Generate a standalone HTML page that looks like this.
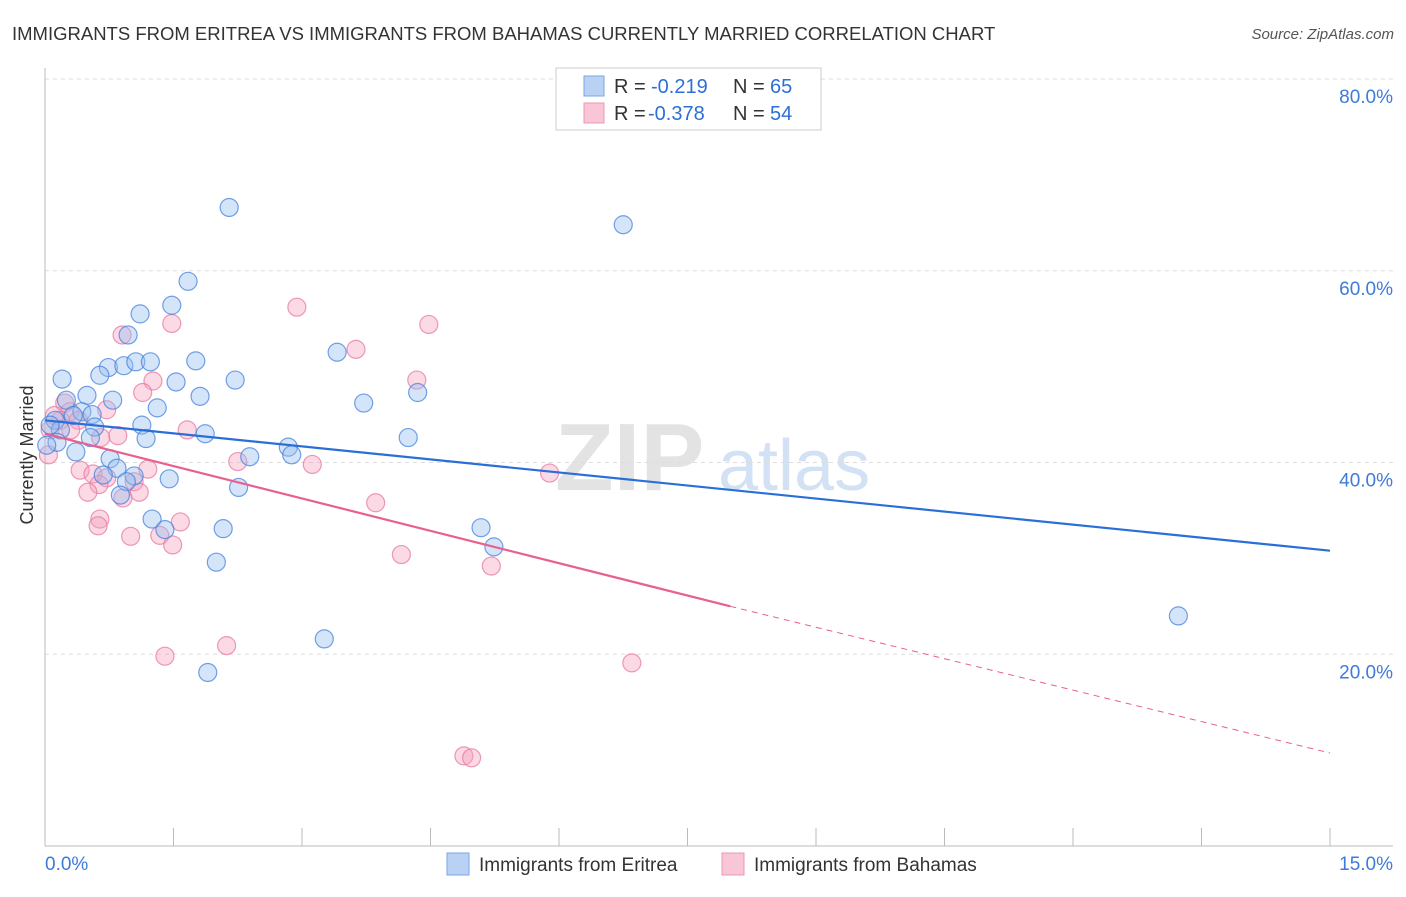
<!DOCTYPE html>
<html><head><meta charset="utf-8"><style>
body{margin:0;background:#fff;font-family:"Liberation Sans",sans-serif}
svg text{font-family:"Liberation Sans",sans-serif}
</style></head><body>
<svg id="chart" width="1406" height="892" xmlns="http://www.w3.org/2000/svg">
<text x="12" y="40" font-size="18.5" fill="#333">IMMIGRANTS FROM ERITREA VS IMMIGRANTS FROM BAHAMAS CURRENTLY MARRIED CORRELATION CHART</text>
<text x="1394" y="39" font-size="15" fill="#555" text-anchor="end" font-style="italic">Source: ZipAtlas.com</text>
<g>
<text x="555" y="490" font-size="96" fill="#ddd" font-family="Liberation Serif" font-weight="bold" opacity="0.8">ZIP</text>
<text x="718" y="490" font-size="72" fill="#c8daf2" opacity="0.8">atlas</text>
</g>
<g id="grid"></g>
<g id="axes"></g>
<g id="pts"></g>
<g id="lines"></g>
<text transform="translate(33,455) rotate(-90)" font-size="18" fill="#333" text-anchor="middle">Currently Married</text>
<g>
<rect x="556" y="68" width="265" height="62" fill="#fff" stroke="#ccc"/>
<rect x="584" y="76" width="20" height="20" fill="#b9d2f4" stroke="#7aa6e6"/>
<rect x="584" y="103" width="20" height="20" fill="#f8c6d6" stroke="#ee97b5"/>
<text x="614" y="93" font-size="20" fill="#333">R =</text>
<text x="651" y="93" font-size="20" fill="#2e6fd6">-0.219</text>
<text x="733" y="93" font-size="20" fill="#333">N =</text>
<text x="770" y="93" font-size="20" fill="#2e6fd6">65</text>
<text x="614" y="120" font-size="20" fill="#333">R =</text>
<text x="648" y="120" font-size="20" fill="#2e6fd6">-0.378</text>
<text x="733" y="120" font-size="20" fill="#333">N =</text>
<text x="770" y="120" font-size="20" fill="#2e6fd6">54</text>
</g>
<g>
<rect x="447" y="853" width="22" height="22" fill="#b9d2f4" stroke="#7aa6e6"/>
<text x="479" y="871" font-size="19" fill="#333">Immigrants from Eritrea</text>
<rect x="722" y="853" width="22" height="22" fill="#f8c6d6" stroke="#ee97b5"/>
<text x="754" y="871" font-size="19" fill="#333">Immigrants from Bahamas</text>
</g>
</svg>
<script>
const blueX=[2.15,6.75,1.67,1.48,1.11,0.97,3.41,0.74,0.92,1.06,1.23,1.76,0.20,0.64,1.53,2.22,0.49,1.81,3.72,0.79,0.25,4.35,1.31,0.43,0.55,0.33,0.12,0.58,1.13,1.87,4.24,0.53,1.18,2.84,2.88,2.39,0.36,0.76,0.84,0.68,1.04,1.45,0.95,2.26,0.88,1.25,2.08,5.09,1.40,5.24,2.00,3.26,1.90,13.23,0.18,0.06,0.14,0.02];
const blueY=[66.6,64.8,58.9,56.4,55.5,53.3,51.5,49.9,50.1,50.5,50.5,50.6,48.7,49.1,48.4,48.6,47.0,46.9,46.2,46.5,46.5,47.3,45.7,45.3,45.0,44.9,44.4,43.7,43.9,43.0,42.6,42.6,42.5,41.6,40.8,40.6,41.1,40.4,39.4,38.7,38.6,38.3,38.0,37.4,36.6,34.1,33.1,33.2,33.0,31.2,29.6,21.6,18.1,24.0,43.4,43.9,42.1,41.8];
const pinkX=[2.94,1.48,4.48,0.90,3.63,1.26,4.34,1.14,0.72,0.23,0.29,0.18,0.39,0.30,1.66,0.85,0.65,2.25,3.12,1.20,0.41,0.56,5.89,0.72,1.04,0.63,0.50,1.10,0.91,3.86,0.64,1.58,0.62,1.00,1.34,1.49,4.16,5.21,1.40,2.12,6.85,4.89,4.98,0.11,0.04,0.06];
const pinkY=[56.2,54.5,54.4,53.3,51.8,48.5,48.6,47.3,45.5,46.2,45.3,44.4,44.4,43.4,43.4,42.8,42.6,40.1,39.8,39.3,39.2,38.8,38.9,38.4,38.0,37.7,36.9,36.9,36.3,35.8,34.1,33.8,33.4,32.3,32.4,31.4,30.4,29.2,19.8,20.9,19.1,9.4,9.2,44.9,40.8,43.4];
const blueLine=[[0,44.4],[15,30.8]];
const pinkLine=[[0,43.0],[8.0,25.0]];
const pinkDash=[[8.0,25.0],[15,9.7]];
const yTicks=[20,40,60,80];
const yTickLabels=["20.0%","40.0%","60.0%","80.0%"];
const xTicks=[0,1.5,3,4.5,6,7.5,9,10.5,12,13.5,15];

const X=v=>45+v*(1330-45)/15;
const Y=v=>846-v*(846-79)/80;
const NS="http://www.w3.org/2000/svg";
function mk(tag,parent,attrs){const e=document.createElementNS(NS,tag);for(const k in attrs)e.setAttribute(k,attrs[k]);parent.appendChild(e);return e;}
const grid=document.getElementById('grid'),axes=document.getElementById('axes');
yTicks.forEach((t,i)=>{
  const l=mk('line',grid,{x1:45,x2:1393,y1:Y(t),y2:Y(t),stroke:'#ddd','stroke-dasharray':'4,4'});
  
  
  const tx=mk('text',axes,{x:1393,y:Y(t)+24,'font-size':19,fill:'#3f7ad8','text-anchor':'end'});
  tx.textContent=yTickLabels[i];
  
  
});
const ax=mk('line',axes,{x1:45,x2:1393,y1:846,y2:846,stroke:'#bbb'});


const ay=mk('line',axes,{x1:45,x2:45,y1:68,y2:846,stroke:'#bbb'});


xTicks.forEach(t=>{
  const l=mk('line',axes,{x1:X(t),x2:X(t),y1:828,y2:846,stroke:'#bbb'});
  
  
});
const xl0=mk('text',axes,{x:45,y:870,'font-size':19,fill:'#3f7ad8'});xl0.textContent='0.0%';


const xl1=mk('text',axes,{x:1393,y:870,'font-size':19,fill:'#3f7ad8','text-anchor':'end'});xl1.textContent='15.0%';


const pts=document.getElementById('pts');


pinkX.forEach((x,i)=>{
  const c=mk('circle',pts,{cx:X(x),cy:Y(pinkY[i]),r:9,fill:'rgba(244,160,190,0.4)',stroke:'rgba(232,120,160,0.75)','stroke-width':1.2});
  
  
});
blueX.forEach((x,i)=>{
  const c=mk('circle',pts,{cx:X(x),cy:Y(blueY[i]),r:9,fill:'rgba(150,190,240,0.4)',stroke:'rgba(70,130,220,0.75)','stroke-width':1.2});
  
  
});
const lines=document.getElementById('lines');
const bl=mk('line',lines,{x1:X(blueLine[0][0]),y1:Y(blueLine[0][1]),x2:X(blueLine[1][0]),y2:Y(blueLine[1][1]),stroke:'#2a6fd8','stroke-width':2.2});


const pl=mk('line',lines,{x1:X(pinkLine[0][0]),y1:Y(pinkLine[0][1]),x2:X(pinkLine[1][0]),y2:Y(pinkLine[1][1]),stroke:'#e8608e','stroke-width':2.2});


const pd=mk('line',lines,{x1:X(pinkDash[0][0]),y1:Y(pinkDash[0][1]),x2:X(pinkDash[1][0]),y2:Y(pinkDash[1][1]),stroke:'#e8608e','stroke-width':1,'stroke-dasharray':'6,5'});


</script>
</body></html>
